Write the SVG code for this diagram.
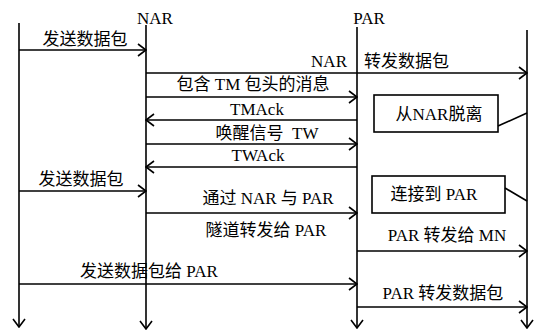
<svg xmlns="http://www.w3.org/2000/svg" width="534" height="332" viewBox="0 0 534 332">
<defs>
<marker id="ah" viewBox="0 0 10 14" refX="9" refY="7" markerWidth="10" markerHeight="14" markerUnits="userSpaceOnUse" orient="auto">
<path d="M1,1 L9,7 L1,13" fill="none" stroke="#000" stroke-width="1.6"/>
</marker>
</defs>
<style>
.t{font-family:"Liberation Serif","Noto Sans CJK SC",serif;font-size:17px;fill:#000}
.m{text-anchor:middle}
.l{stroke:#000;stroke-width:1.6;fill:none}
.a{stroke:#000;stroke-width:1.6;fill:none;marker-end:url(#ah)}
.b{stroke:#000;stroke-width:1.6;fill:#fff}
</style>
<rect width="534" height="332" fill="#fff"/>
<g id="lifelines">
<line class="a" x1="19" y1="23" x2="19" y2="327"/>
<line class="a" x1="146" y1="25" x2="146" y2="329"/>
<line class="a" x1="357" y1="27" x2="357" y2="328"/>
<line class="a" x1="527" y1="30" x2="527" y2="328"/>
</g>
<g id="NAR"><text class="t m" x="155" y="24">NAR</text></g>
<g id="PAR"><text class="t m" x="369" y="24">PAR</text></g>
<g id="box1">
<rect class="b" x="374" y="95" width="124" height="37"/>
<text class="t m" x="439" y="120">从NAR脱离</text>
</g>
<g id="box2">
<rect class="b" x="372" y="176" width="133" height="37"/>
<text class="t m" x="434" y="200">连接到 PAR</text>
</g>
<g id="connectors">
<line class="a" x1="19" y1="50" x2="146" y2="50"/>
<line class="a" x1="146" y1="73" x2="527" y2="73"/>
<line class="a" x1="146" y1="97" x2="357" y2="97"/>
<line class="a" x1="357" y1="120" x2="146" y2="120"/>
<line class="a" x1="146" y1="144" x2="357" y2="144"/>
<line class="a" x1="357" y1="167" x2="146" y2="167"/>
<line class="a" x1="19" y1="191" x2="146" y2="191"/>
<line class="a" x1="146" y1="213" x2="357" y2="213"/>
<line class="a" x1="357" y1="251" x2="527" y2="251"/>
<line class="a" x1="19" y1="284" x2="357" y2="284"/>
<line class="a" x1="357" y1="307" x2="527" y2="307"/>
<line class="l" x1="498" y1="126" x2="527" y2="113"/>
<line class="l" x1="505" y1="188" x2="527" y2="201"/>
</g>
<g id="labels">
<text class="t m" x="85" y="45">发送数据包</text>
<text class="t" x="347" y="67" text-anchor="end">NAR</text>
<text class="t" x="364" y="67">转发数据包</text>
<text class="t m" x="253" y="90">包含 TM 包头的消息</text>
<text class="t m" x="257" y="115">TMAck</text>
<text class="t m" x="267" y="139">唤醒信号&#160;&#160;TW</text>
<text class="t m" x="258" y="161">TWAck</text>
<text class="t m" x="81" y="185">发送数据包</text>
<text class="t m" x="268" y="204">通过 NAR 与 PAR</text>
<text class="t m" x="266" y="236">隧道转发给 PAR</text>
<text class="t m" x="447" y="241">PAR 转发给 MN</text>
<text class="t m" x="149" y="277">发送数据包给 PAR</text>
<text class="t m" x="443" y="299">PAR 转发数据包</text>
</g>
</svg>
